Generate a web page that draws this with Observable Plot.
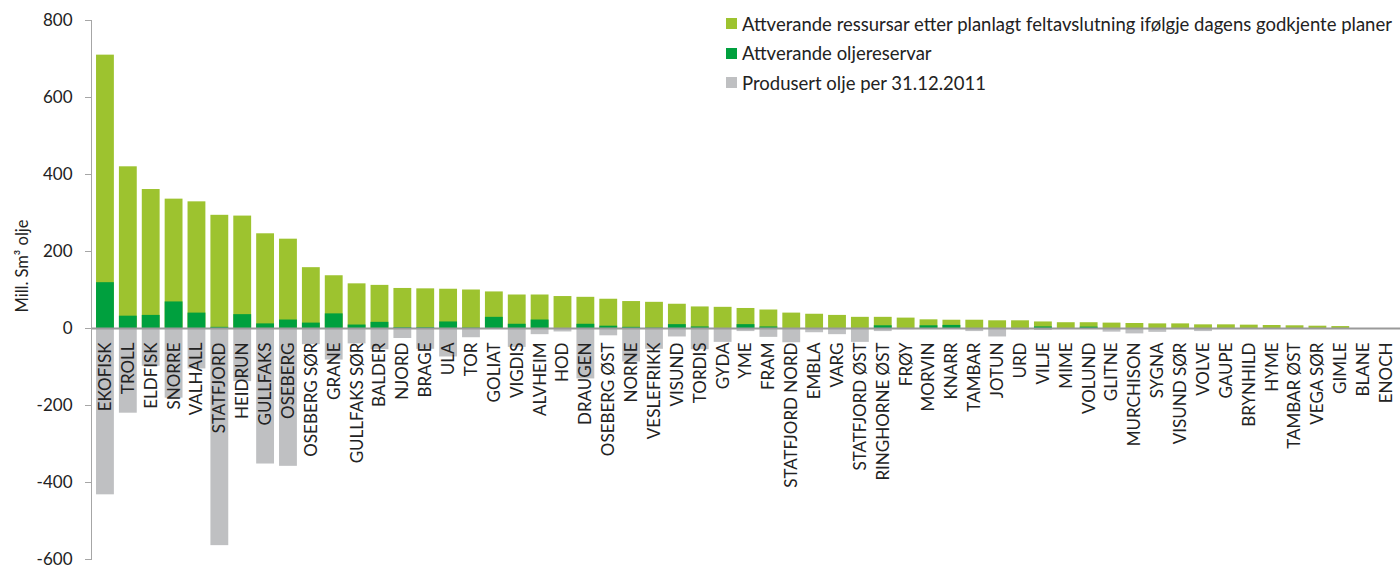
<!DOCTYPE html>
<html>
<head>
<meta charset="utf-8">
<script src="https://cdn.jsdelivr.net/npm/d3@7"></script>
<script src="https://cdn.jsdelivr.net/npm/@observablehq/plot@0.6"></script>
<style>
  html, body { margin: 0; padding: 0; background: #fff; overflow: hidden; }
  #wrap { position: relative; width: 1400px; height: 568px; }
  #legend { position: absolute; left: 726px; top: 9px; font-family: Lato, sans-serif; font-size: 18.5px; color: #222; }
  #legend .row { display: flex; align-items: center; height: 29.5px; white-space: nowrap; }
  #legend .sw { width: 11px; height: 11px; margin-right: 5px; flex: none; }
</style>
</head>
<body>
<div id="wrap"><div id="legend"></div></div>
<script>
const fields = ["EKOFISK","TROLL","ELDFISK","SNORRE","VALHALL","STATFJORD","HEIDRUN","GULLFAKS","OSEBERG","OSEBERG SØR","GRANE","GULLFAKS SØR","BALDER","NJORD","BRAGE","ULA","TOR","GOLIAT","VIGDIS","ALVHEIM","HOD","DRAUGEN","OSEBERG ØST","NORNE","VESLEFRIKK","VISUND","TORDIS","GYDA","YME","FRAM","STATFJORD NORD","EMBLA","VARG","STATFJORD ØST","RINGHORNE ØST","FRØY","MORVIN","KNARR","TAMBAR","JOTUN","URD","VILJE","MIME","VOLUND","GLITNE","MURCHISON","SYGNA","VISUND SØR","VOLVE","GAUPE","BRYNHILD","HYME","TAMBAR ØST","VEGA SØR","GIMLE","BLANE","ENOCH"];
// top of light green bar (remaining resources incl. reserves)
const resources = [710,420,361,336,329,294,292,246,232,158,137,116,112,104,103,102,100,95,87,87,83,81,76,70,68,63,56,55,52,48,40,37,34,29,29,27,22.5,21.5,21.5,20,20,17,15,15,14,13,12,12,9.5,9.5,8.7,7.8,7,6,5,0,0];
// remaining oil reserves (dark green)
const reserves = [119,32,34,69,40,3,36,12,22,14,38,9,16,2,2,17,1,29,11,22,0,11,6,3,1,10,4,0,10,4,0,0,0,0,7,0,7,8,0,0,0,4,0,3.5,0,0,0,0,0,0,0,0,0,0,0,0,0];
// produced oil per 31.12.2011 (drawn downwards)
const produced = [432,220,98,181,105,564,138,352,358,42,82,40,55,26,54,74,24,0,49,16,9,131,19,87,54,22,55,36,8,23,37,11,16,36,8,3,0,0,8,22,4,5,0,0,9.5,14,10,0,8,0,0,0,0,0,0,0,0];
const yTicks = [-600,-400,-200,0,200,400,600,800];
const seriesNames = ["Attverande ressursar etter planlagt feltavslutning ifølgje dagens godkjente planer","Attverande oljereservar","Produsert olje per 31.12.2011"];
const seriesColors = ["#9dc32f","#00a03e","#bfc0c2"];

const data = fields.map((f, i) => ({field: f, resources: resources[i], reserves: reserves[i], produced: produced[i]}));

const chart = Plot.plot({
  width: 1400,
  height: 568,
  marginLeft: 91,
  marginRight: 0,
  marginTop: 20,
  marginBottom: 9,
  style: {fontFamily: "Lato, sans-serif", fontSize: "17px", color: "#222", background: "transparent"},
  x: {domain: fields, padding: 0.22, axis: null},
  y: {domain: [-600, 800], axis: null},
  marks: [
    Plot.barY(data, {x: "field", y: "resources", fill: seriesColors[0]}),
    Plot.barY(data, {x: "field", y: "reserves", fill: seriesColors[1]}),
    Plot.barY(data, {x: "field", y: d => -d.produced, fill: seriesColors[2]}),
    Plot.ruleY([0], {stroke: "#9a9a9a", strokeWidth: 2}),
    Plot.axisY({ticks: yTicks, tickSize: 6, tickPadding: 13, label: null, stroke: "#a6a6a6", fill: "#222", fontSize: 17, tickFormat: d => String(d)}),
    Plot.frame({anchor: "left", stroke: "#a6a6a6"}),
    Plot.text(data, {x: "field", y: 0, text: "field", rotate: -90, textAnchor: "end", dy: 14, fontSize: 17, fill: "#222"}),
    Plot.text(["Mill. Sm³ olje"], {frameAnchor: "left", text: d => d, rotate: -90, textAnchor: "middle", dx: -69, dy: -24, fontSize: 16.5, fill: "#222"})
  ]
});
document.getElementById("wrap").prepend(chart);

const legend = document.getElementById("legend");
seriesNames.forEach((name, i) => {
  const row = document.createElement("div");
  row.className = "row";
  const sw = document.createElement("span");
  sw.className = "sw";
  sw.style.background = seriesColors[i];
  const t = document.createElement("span");
  t.textContent = name;
  row.appendChild(sw);
  row.appendChild(t);
  legend.appendChild(row);
});
</script>
</body>
</html>
